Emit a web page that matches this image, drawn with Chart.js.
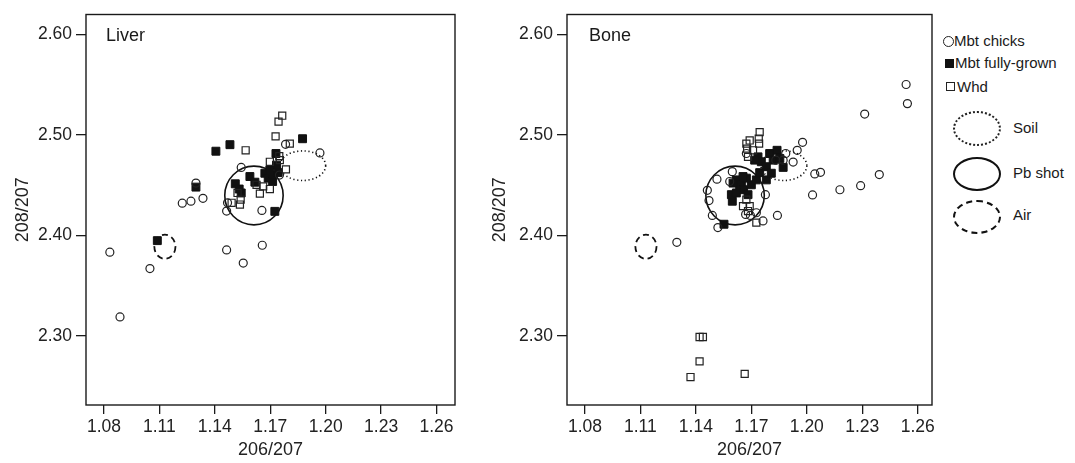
<!DOCTYPE html>
<html>
<head>
<meta charset="utf-8">
<script src="https://cdn.jsdelivr.net/npm/chart.js@4.4.0/dist/chart.umd.min.js"></script>
<style>
  body { margin: 0; background: #fff; width: 1075px; height: 463px; overflow: hidden; position: relative;
         font-family: "Liberation Sans", Arial, sans-serif; color: #1a1a1a; }
  canvas { position: absolute; top: 0; }
  #liver { left: 0; }
  #bone { left: 480px; }
  .mk { position: absolute; box-sizing: border-box; }
  .lab { position: absolute; font-size: 15px; line-height: 18px; white-space: nowrap; }
</style>
</head>
<body>
<canvas id="liver" width="470" height="463"></canvas>
<canvas id="bone" width="460" height="463"></canvas>

<div class="mk" style="left:943px;top:36px;width:11px;height:11px;border:1.3px solid #222;border-radius:50%"></div>
<div class="lab" id="lab0" style="left:954px;top:32px"></div>
<div class="mk" style="left:945px;top:59px;width:9px;height:9px;background:#111"></div>
<div class="lab" id="lab1" style="left:955px;top:54px"></div>
<div class="mk" style="left:946px;top:82px;width:9px;height:9px;border:1.3px solid #222"></div>
<div class="lab" id="lab2" style="left:957px;top:78px"></div>

<div class="mk" style="left:953px;top:111px;width:48px;height:35px;border:2px dotted #222;border-radius:50%"></div>
<div class="lab" id="src0" style="left:1013px;top:119px"></div>
<div class="mk" style="left:953px;top:157px;width:48px;height:34px;border:2px solid #111;border-radius:50%"></div>
<div class="lab" id="src1" style="left:1013px;top:164px"></div>
<div class="mk" style="left:953px;top:200px;width:48px;height:34px;border:2px dashed #111;border-radius:50%"></div>
<div class="lab" id="src2" style="left:1013px;top:206px"></div>

<script>
// series names
const seriesNames = ['Mbt chicks', 'Mbt fully-grown', 'Whd'];
const sourceNames = ['Soil', 'Pb shot', 'Air'];

// axis ticks
const xTicks = [1.08, 1.11, 1.14, 1.17, 1.20, 1.23, 1.26];
const yTicks = [2.30, 2.40, 2.50, 2.60];

// isotope source ellipses (centre and half-axes in data units)
const sourceCx = [1.1876, 1.1612, 1.1130];
const sourceCy = [2.4693, 2.4397, 2.3887];
const sourceRx = [0.0124, 0.0158, 0.0057];
const sourceRy = [0.0147, 0.0292, 0.0120];

// Liver  [206/207, 208/207]
const liverChicks = [
  [1.0832, 2.3833], [1.0887, 2.3190], [1.1049, 2.3670], [1.1224, 2.4320], [1.1271, 2.4340],
  [1.1336, 2.4369], [1.1298, 2.4520], [1.1464, 2.3856], [1.1554, 2.3725], [1.1657, 2.3902],
  [1.1655, 2.4248], [1.1464, 2.4242], [1.1469, 2.4324], [1.1543, 2.4676], [1.1783, 2.4905],
  [1.1969, 2.4820], [1.1750, 2.4600]
];
const liverGrown = [
  [1.1089, 2.3948], [1.1298, 2.4480], [1.1406, 2.4837], [1.1482, 2.4902], [1.1875, 2.4961],
  [1.1731, 2.4814], [1.1725, 2.4239], [1.1511, 2.4513], [1.1543, 2.4422], [1.1532, 2.4461],
  [1.1590, 2.4585], [1.1617, 2.4529], [1.1671, 2.4618], [1.1689, 2.4569], [1.1713, 2.4536],
  [1.1734, 2.4699], [1.1716, 2.4601], [1.1698, 2.4650], [1.1743, 2.4624]
];
const liverWhd = [
  [1.1765, 2.5190], [1.1745, 2.5131], [1.1729, 2.4984], [1.1567, 2.4846], [1.1806, 2.4912],
  [1.1785, 2.4657], [1.1644, 2.4415], [1.1536, 2.4307], [1.1540, 2.4356], [1.1523, 2.4422],
  [1.1698, 2.4732], [1.1752, 2.4748], [1.1662, 2.4487], [1.1626, 2.4503], [1.1698, 2.4461],
  [1.1749, 2.4788], [1.1491, 2.4324]
];

// Bone
const boneChicks = [
  [1.2537, 2.5500], [1.2544, 2.5310], [1.2313, 2.5206], [1.2392, 2.4605], [1.2291, 2.4494],
  [1.2179, 2.4454], [1.2031, 2.4402], [1.2043, 2.4611], [1.2074, 2.4627], [1.1977, 2.4925],
  [1.1948, 2.4846], [1.1926, 2.4729], [1.1886, 2.4814], [1.1841, 2.4199], [1.1763, 2.4144],
  [1.1776, 2.4405], [1.1297, 2.3931], [1.1519, 2.4078], [1.1489, 2.4199], [1.1471, 2.4346],
  [1.1462, 2.4448], [1.1514, 2.4559], [1.1597, 2.4634], [1.1727, 2.4225], [1.1669, 2.4209],
  [1.1695, 2.4199], [1.1832, 2.4748], [1.1673, 2.4814], [1.1583, 2.4536], [1.1872, 2.4748]
];
const boneGrown = [
  [1.1552, 2.4111], [1.1597, 2.4340], [1.1592, 2.4405], [1.1619, 2.4552], [1.1646, 2.4520],
  [1.1673, 2.4569], [1.1637, 2.4487], [1.1658, 2.4454], [1.1700, 2.4503], [1.1727, 2.4552],
  [1.1745, 2.4624], [1.1781, 2.4552], [1.1736, 2.4781], [1.1754, 2.4732], [1.1799, 2.4814],
  [1.1839, 2.4846], [1.1818, 2.4748], [1.1872, 2.4676], [1.1781, 2.4683], [1.1718, 2.4748],
  [1.1682, 2.4405], [1.1619, 2.4422], [1.1601, 2.4520], [1.1655, 2.4585], [1.1808, 2.4618],
  [1.1854, 2.4765]
];
const boneWhd = [
  [1.1745, 2.5026], [1.1740, 2.4961], [1.1742, 2.4912], [1.1673, 2.4912], [1.1691, 2.4944],
  [1.1677, 2.4863], [1.1682, 2.4781], [1.1727, 2.4127], [1.1691, 2.4291], [1.1655, 2.4291],
  [1.1682, 2.4242], [1.1673, 2.4356], [1.1371, 2.2592], [1.1420, 2.2748], [1.1420, 2.2990],
  [1.1438, 2.2990], [1.1664, 2.2624], [1.1709, 2.4846]
];

seriesNames.forEach((n, i) => document.getElementById('lab' + i).textContent = n);
sourceNames.forEach((n, i) => document.getElementById('src' + i).textContent = n);

const FONT = '"Liberation Sans", Arial, sans-serif';
const INK = '#1a1a1a';

// frame round the plot + panel label
const framePlugin = {
  id: 'frame',
  afterDraw(chart, args, opts) {
    const { ctx, chartArea: a } = chart;
    ctx.save();
    ctx.strokeStyle = INK;
    ctx.lineWidth = 1.4;
    ctx.strokeRect(a.left, a.top, a.right - a.left, a.bottom - a.top);
    ctx.fillStyle = INK;
    ctx.font = '18px ' + FONT;
    ctx.textBaseline = 'middle';
    ctx.fillText(opts.label, a.left + opts.dx, a.top + 22);
    ctx.restore();
  }
};

// source ellipses, drawn from data coordinates
const ellipsePlugin = {
  id: 'sources',
  beforeDatasetsDraw(chart) {
    const { ctx, scales: { x, y } } = chart;
    const dashes = [[1.2, 2.6], [], [6, 4]];
    const widths = [1.6, 1.6, 1.8];
    ctx.save();
    ctx.strokeStyle = '#111';
    ctx.lineCap = 'butt';
    sourceCx.forEach((cx, i) => {
      const px = x.getPixelForValue(cx);
      const py = y.getPixelForValue(sourceCy[i]);
      const rx = Math.abs(x.getPixelForValue(cx + sourceRx[i]) - px);
      const ry = Math.abs(y.getPixelForValue(sourceCy[i] + sourceRy[i]) - py);
      ctx.setLineDash(dashes[i]);
      ctx.lineWidth = widths[i];
      ctx.beginPath();
      ctx.ellipse(px, py, rx, ry, 0, 0, Math.PI * 2);
      ctx.stroke();
    });
    ctx.restore();
  }
};

const toPts = arr => arr.map(p => ({ x: p[0], y: p[1] }));

function makeChart(id, chicks, grown, whd, label, yWidth, xMax, yTitlePad) {
  return new Chart(document.getElementById(id), {
    type: 'scatter',
    data: {
      datasets: [
        { label: seriesNames[2], data: toPts(whd), pointStyle: 'rect', pointRadius: 5, borderWidth: 1.2,
          borderColor: '#222', backgroundColor: 'rgba(255,255,255,0)' },
        { label: seriesNames[0], data: toPts(chicks), pointStyle: 'circle', pointRadius: 4, borderWidth: 1.2,
          borderColor: '#222', backgroundColor: 'rgba(255,255,255,0)' },
        { label: seriesNames[1], data: toPts(grown), pointStyle: 'rect', pointRadius: 5.6, borderWidth: 1,
          borderColor: '#111', backgroundColor: '#111' }
      ]
    },
    options: {
      responsive: false,
      animation: false,
      layout: { padding: { top: 9, right: id === 'liver' ? 15 : 8, bottom: 0, left: 0 } },
      plugins: {
        legend: { display: false },
        tooltip: { enabled: false },
        frame: { label: label, dx: id === 'liver' ? 20 : 22 }
      },
      scales: {
        x: {
          type: 'linear', min: 1.0703, max: xMax,
          afterBuildTicks: s => { s.ticks = xTicks.map(v => ({ value: v })); },
          afterFit: s => { s.height = 58; },
          grid: { drawOnChartArea: false, drawTicks: true, tickLength: 9, color: INK, lineWidth: 1.3 },
          border: { display: false },
          ticks: { color: '#222', font: { size: 17.5, family: FONT }, padding: 3, maxRotation: 0,
                   callback: v => v.toFixed(2) },
          title: { display: true, text: '206/207', color: '#222', font: { size: 18, family: FONT },
                   padding: { top: 0, bottom: 2 } }
        },
        y: {
          type: 'linear', min: 2.2314, max: 2.6196,
          afterBuildTicks: s => { s.ticks = yTicks.map(v => ({ value: v })); },
          afterFit: s => { s.width = yWidth; },
          grid: { drawOnChartArea: false, drawTicks: true, tickLength: 10, color: INK, lineWidth: 1.3 },
          border: { display: false },
          ticks: { color: '#222', font: { size: 17.5, family: FONT }, padding: 4,
                   callback: v => v.toFixed(2) },
          title: { display: true, text: '208/207', color: '#222', font: { size: 18, family: FONT },
                   padding: { top: yTitlePad, bottom: 0 } }
        }
      }
    },
    plugins: [ellipsePlugin, framePlugin]
  });
}

makeChart('liver', liverChicks, liverGrown, liverWhd, 'Liver', 86, 1.2700, 12);
makeChart('bone', boneChicks, boneGrown, boneWhd, 'Bone', 87, 1.2677, 9);
</script>
</body>
</html>
